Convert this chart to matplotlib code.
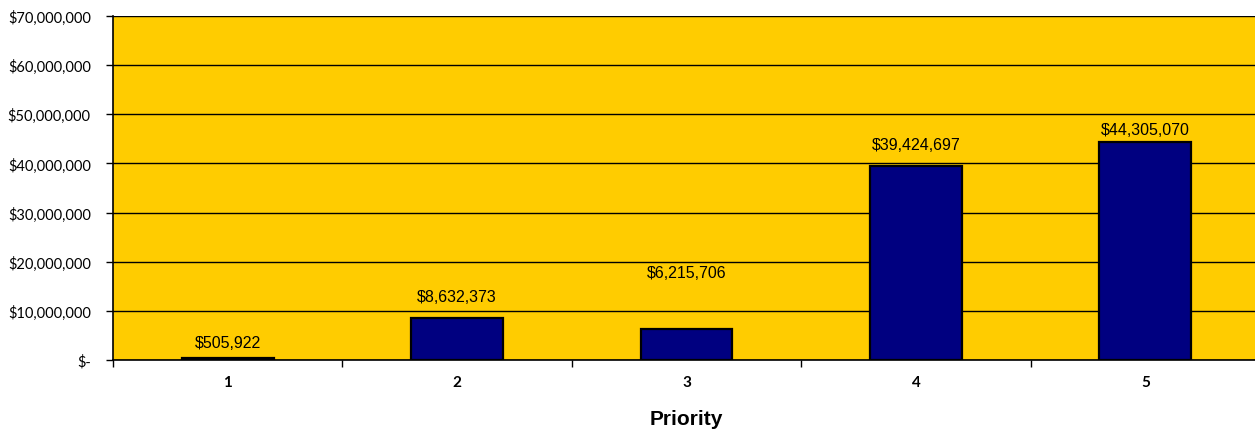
import matplotlib
matplotlib.use("Agg")
import matplotlib.pyplot as plt
from matplotlib.ticker import FuncFormatter, MultipleLocator, FixedLocator

priorities = ["1", "2", "3", "4", "5"]
amounts = [505922, 8632373, 6215706, 39424697, 44305070]
# extra lift of each value label above its bar, in points
label_lift = [11, 15, 41, 16, 9]


def money(v, pos=None):
    if v == 0:
        return "$-"
    return "${:,.0f}".format(v)


fig = plt.figure(figsize=(12.55, 4.31), dpi=100)
ax = fig.add_axes([0.090, 0.1624, 0.914, 0.798])
ax.set_facecolor("#FFCC00")

x = list(range(1, len(priorities) + 1))
ax.bar(x, amounts, width=0.4, color="#000080", edgecolor="black", linewidth=1.6, zorder=3)

for xi, v, lift in zip(x, amounts, label_lift):
    ax.annotate(money(v), (xi, v), xytext=(0, lift), textcoords="offset points",
                ha="center", va="center", fontsize=11.5, family="Liberation Sans",
                color="black", zorder=4)

ax.set_xlim(0.5, len(priorities) + 0.5)
ax.set_ylim(0, 70000000)
ax.yaxis.set_major_locator(MultipleLocator(10000000))
ax.yaxis.set_major_formatter(FuncFormatter(money))
ax.grid(axis="y", color="black", linewidth=1.0, zorder=1)

ax.set_xticks(x)
ax.set_xticklabels(priorities, fontsize=11, fontweight="bold", family="Lato")
ax.xaxis.set_minor_locator(FixedLocator([i + 0.5 for i in range(len(priorities) + 1)]))
ax.tick_params(axis="x", which="major", length=0, pad=11)
ax.tick_params(axis="x", which="minor", length=5, width=1, direction="out")
ax.tick_params(axis="y", length=5, width=1, direction="out", pad=11)
for lab in ax.get_yticklabels():
    lab.set_family("Lato")
    lab.set_fontsize(10.5)

ax.set_xlabel("Priority", fontsize=15, fontweight="bold", family="Liberation Sans", labelpad=14)

for s in ["top", "right"]:
    ax.spines[s].set_visible(False)
ax.spines["left"].set_linewidth(1.2)
ax.spines["bottom"].set_linewidth(1.2)

fig.savefig("out.png", dpi=100)
